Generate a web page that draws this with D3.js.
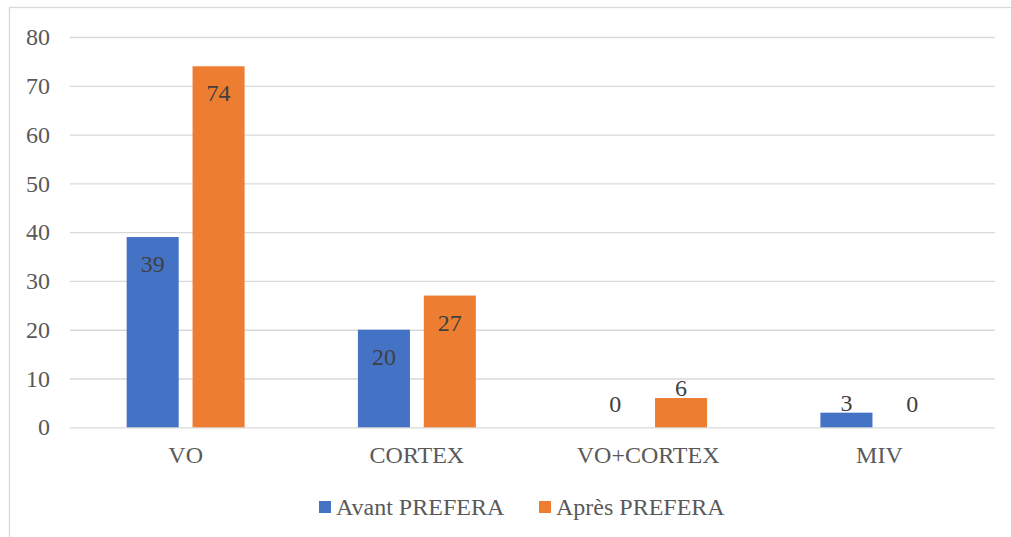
<!DOCTYPE html>
<html>
<head>
<meta charset="utf-8">
<script src="https://cdn.jsdelivr.net/npm/d3@7"></script>
<style>
  body { margin: 0; background: #fff; }
  text { font-family: "Liberation Serif", "Times New Roman", serif; }
</style>
</head>
<body>
<div id="chart"></div>
<script>
// data
const categories = ["VO", "CORTEX", "VO+CORTEX", "MIV"];
const seriesNames = ["Avant PREFERA", "Après PREFERA"];
const avant = [39, 20, 0, 3];
const apres = [74, 27, 6, 0];
const yTicks = [0, 10, 20, 30, 40, 50, 60, 70, 80];

const colors = {"Avant PREFERA": "#4472c4", "Après PREFERA": "#ed7d31"};

const W = 1011, H = 537;
const margin = {top: 37, right: 16, bottom: 110, left: 70},
    width = W - margin.left - margin.right,
    height = 427.3 - margin.top;
const fs = "24px";

const svg = d3.select("#chart").append("svg")
    .attr("width", W)
    .attr("height", H);

// chart frame
svg.append("rect")
    .attr("x", 9.5).attr("y", 7.5)
    .attr("width", 1010).attr("height", 540)
    .attr("fill", "none")
    .attr("stroke", "#d9d9d9")
    .attr("stroke-width", 1.3);

const g = svg.append("g")
    .attr("transform", "translate(" + margin.left + "," + margin.top + ")");

const x0 = d3.scaleBand()
    .domain(categories)
    .range([0, width]);

const groupW = x0.bandwidth() * 0.51;
const x1 = d3.scaleBand()
    .domain(seriesNames)
    .range([(x0.bandwidth() - groupW) / 2, (x0.bandwidth() + groupW) / 2])
    .paddingInner(0.21);

const y = d3.scaleLinear()
    .domain([0, 80])
    .range([height, 0]);

// gridlines + y labels
const yAxis = g.append("g")
    .call(d3.axisLeft(y).tickValues(yTicks).tickSize(-width).tickPadding(20).tickSizeOuter(0));
yAxis.select(".domain").remove();
yAxis.selectAll(".tick line")
    .attr("stroke", "#d9d9d9")
    .attr("stroke-width", 1.3);
yAxis.selectAll(".tick text")
    .attr("fill", "#595959")
    .style("font-size", fs);

// category labels
const xAxis = g.append("g")
    .attr("transform", "translate(0," + height + ")")
    .call(d3.axisBottom(x0).tickSize(0).tickPadding(19));
xAxis.select(".domain").remove();
xAxis.selectAll(".tick text")
    .attr("fill", "#595959")
    .style("font-size", fs);

const rows = categories.map((c, i) => ({cat: c, vals: [
    {name: seriesNames[0], v: avant[i]},
    {name: seriesNames[1], v: apres[i]}
]}));

const grp = g.selectAll(".cat")
    .data(rows)
    .enter().append("g")
    .attr("class", "cat")
    .attr("transform", d => "translate(" + x0(d.cat) + ",0)");

grp.selectAll("rect")
    .data(d => d.vals)
    .enter().append("rect")
    .attr("x", d => x1(d.name))
    .attr("width", x1.bandwidth())
    .attr("y", d => y(d.v))
    .attr("height", d => height - y(d.v))
    .attr("fill", d => colors[d.name]);

grp.selectAll(".lbl")
    .data(d => d.vals)
    .enter().append("text")
    .attr("class", "lbl")
    .attr("x", d => x1(d.name) + x1.bandwidth() / 2)
    .attr("y", d => {
        const top = y(d.v);
        if (height - top > 40) return top + 35;
        return Math.min(top - 2, height - 15);
    })
    .attr("text-anchor", "middle")
    .attr("fill", "#404040")
    .style("font-size", fs)
    .text(d => d.v);

// legend
const legend = svg.append("g");
const legX = [319, 539];
seriesNames.forEach((s, i) => {
    legend.append("rect")
        .attr("x", legX[i]).attr("y", 501)
        .attr("width", 12).attr("height", 12)
        .attr("fill", colors[s]);
    legend.append("text")
        .attr("x", legX[i] + 17).attr("y", 515)
        .attr("fill", "#595959")
        .style("font-size", fs)
        .text(s);
});
</script>
</body>
</html>
